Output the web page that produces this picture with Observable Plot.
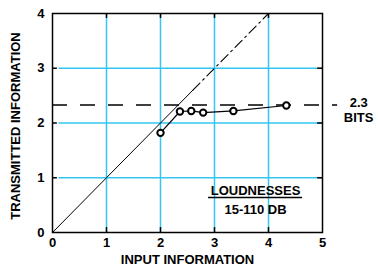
<!DOCTYPE html>
<html>
<head>
<meta charset="utf-8">
<script src="https://cdn.jsdelivr.net/npm/d3@7"></script>
<script src="https://cdn.jsdelivr.net/npm/@observablehq/plot@0.6"></script>
<style>
  html, body { margin: 0; padding: 0; background: #fff; }
  svg { font-family: "Liberation Sans", Arial, sans-serif; font-weight: bold; }
</style>
</head>
<body>
<div id="chart"></div>
<script>
// ---- data ----
const xTicks = [0, 1, 2, 3, 4, 5];
const yTicks = [0, 1, 2, 3, 4];
const gridX = [1, 2, 3, 4];
const gridY = [1, 2, 3];
const inputInfo = [2.0, 2.36, 2.57, 2.79, 3.35, 4.33];
const transmittedInfo = [1.82, 2.21, 2.22, 2.19, 2.22, 2.32];
const capacity = [2.33];
const diagSolid = [0, 2.6];
const diagDashed = [2.6, 4];
const xLabel = "INPUT INFORMATION";
const yLabel = "TRANSMITTED INFORMATION";
const capLabels = ["2.3", "BITS"];
const legendLabels = ["LOUDNESSES", "15-110 DB"];

const points = inputInfo.map((x, i) => ({x, y: transmittedInfo[i]}));
const cyan = "#33c6f2";

const chart = Plot.plot({
  width: 378,
  height: 268,
  marginLeft: 52,
  marginRight: 56,
  marginTop: 13,
  marginBottom: 36,
  x: {domain: [0, 5]},
  y: {domain: [0, 4]},
  style: {fontFamily: "'Liberation Sans', Arial, sans-serif", fontWeight: "bold", fontSize: "12px", color: "#000"},
  marks: [
    // grid
    Plot.ruleX(gridX, {x: d => d, y1: 0, y2: 4, stroke: cyan, strokeWidth: 1.5}),
    Plot.ruleY(gridY, {y: d => d, x1: 0.12, x2: 5, stroke: cyan, strokeWidth: 1.5}),
    // inward ticks
    Plot.ruleX(gridX, {x: d => d, y1: 0, y2: 0.09, stroke: "#000", strokeWidth: 1.5}),
    Plot.ruleX(gridX, {x: d => d, y1: 3.91, y2: 4, stroke: "#000", strokeWidth: 1.5}),
    Plot.ruleY(gridY, {y: d => d, x1: 0, x2: 0.09, stroke: "#000", strokeWidth: 1.5}),
    Plot.ruleY(gridY, {y: d => d, x1: 4.91, x2: 5, stroke: "#000", strokeWidth: 1.5}),
    // axes
    Plot.axisX(xTicks, {tickSize: 0, tickPadding: 5, tickFormat: d3.format("d"), fontSize: 13, fontWeight: "bold", label: null}),
    Plot.axisY(yTicks, {tickSize: 0, tickPadding: 8, tickFormat: d3.format("d"), fontSize: 13, fontWeight: "bold", label: null}),
    Plot.text([xLabel], {frameAnchor: "bottom", dy: 31, text: d => d, fontSize: 13, fontWeight: "bold", letterSpacing: 2.6}),
    Plot.text([yLabel], {frameAnchor: "left", textAnchor: "middle", dx: -37, dy: 3, rotate: -90, text: d => d, fontSize: 13, fontWeight: "bold", letterSpacing: 2.1}),
    // identity line
    Plot.line(diagSolid, {x: d => d, y: d => d, stroke: "#000", strokeWidth: 1}),
    Plot.line(diagDashed, {x: d => d, y: d => d, stroke: "#000", strokeWidth: 1.1, strokeDasharray: "10,4,2,4"}),
    // capacity dashed line
    Plot.ruleY(capacity, {y: d => d, x1: 0, x2: 5.28, stroke: "#000", strokeWidth: 1.5, strokeDasharray: "15,13", clip: false}),
    // data
    Plot.line(points, {x: "x", y: "y", stroke: "#000", strokeWidth: 1.2}),
    Plot.dot(points, {x: "x", y: "y", r: 3.2, stroke: "#000", strokeWidth: 2, fill: "#fff"}),
    // capacity labels
    Plot.text([capLabels[0]], {x: 5.67, y: 2.37, text: d => d, fontSize: 13, fontWeight: "bold", letterSpacing: 1}),
    Plot.text([capLabels[1]], {x: 5.67, y: 2.09, text: d => d, fontSize: 13, fontWeight: "bold", letterSpacing: 1}),
    // legend text
    Plot.text([legendLabels[0]], {x: 3.76, y: 0.77, text: d => d, fontSize: 13, fontWeight: "bold", letterSpacing: 1}),
    Plot.ruleY([0.64], {y: d => d, x1: 2.89, x2: 4.63, stroke: "#000", strokeWidth: 1.5}),
    Plot.text([legendLabels[1]], {x: 3.76, y: 0.41, text: d => d, fontSize: 13, fontWeight: "bold", letterSpacing: 1}),
    // frame
    Plot.frame({stroke: "#000", strokeWidth: 1.5})
  ]
});
document.getElementById("chart").appendChild(chart);
</script>
</body>
</html>
